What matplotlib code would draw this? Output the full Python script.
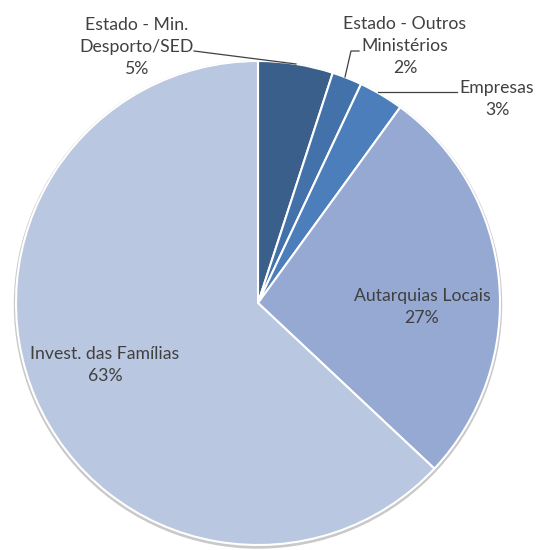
import matplotlib
matplotlib.use('Agg')
import matplotlib.pyplot as plt

# Data
labels = ['Estado - Min.\nDesporto/SED', 'Estado - Outros\nMinistérios', 'Empresas',
          'Autarquias Locais', 'Invest. das Famílias']
shares = [5, 2, 3, 27, 63]
colors = ['#3A5F8B', '#4372AA', '#4B7EBB', '#95A9D3', '#BAC7E0']

plt.rcParams['font.family'] = ['Lato', 'DejaVu Sans']
txt_color = '#404040'

fig = plt.figure(figsize=(5.37, 5.50), dpi=100)
ax = fig.add_axes([0, 0, 1, 1])

cx, cy, r = 258, 550 - 303, 242

# soft shadow round the pie
shadow = plt.Circle((cx, cy - 1.5), r + 1.5, color='#C9C9C9', zorder=0)
ax.add_patch(shadow)

wedges, _ = ax.pie(shares, colors=colors, startangle=90, counterclock=False,
                   center=(cx, cy), radius=r, frame=True,
                   wedgeprops=dict(edgecolor='white', linewidth=1.5))
ax.set_xlim(0, 537)
ax.set_ylim(0, 550)
ax.axis('off')

pct = ['%d%%' % s for s in shares]
fs = 12.7

# Label positions (pixels from top-left)
pos = [(137, 47), (405, 46), (497, 99), (422, 307), (105, 365)]
for i, (lab, (x, y)) in enumerate(zip(labels, pos)):
    ax.text(x, 550 - y, lab + '\n' + pct[i], ha='center', va='center',
            fontsize=fs, color=txt_color, linespacing=1.48)

# Leader lines
lc = dict(color='#404040', lw=0.9)
ax.plot([194, 296], [550 - 51, 550 - 64], **lc)
ax.plot([345, 351, 359], [550 - 77, 550 - 51, 550 - 51], **lc)
ax.plot([378, 457], [550 - 92, 550 - 92], **lc)

fig.savefig('out.png', dpi=100, facecolor='white')
